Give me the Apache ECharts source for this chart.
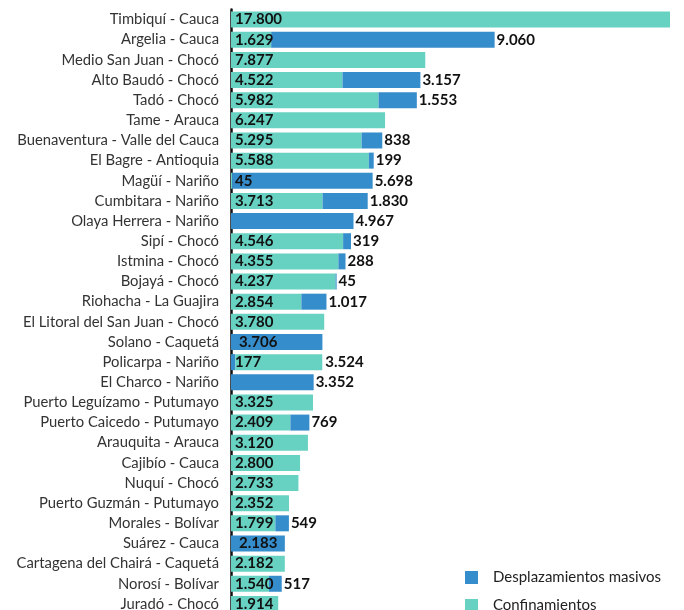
<!DOCTYPE html>
<html>
<head>
<meta charset="utf-8">
<script src="https://cdn.jsdelivr.net/npm/echarts@6/dist/echarts.min.js"></script>
<style>html,body{margin:0;padding:0;background:#fff}#c{width:684px;height:610px}</style>
</head>
<body>
<div id="c"></div>
<script>
const categories = ["Timbiquí - Cauca","Argelia - Cauca","Medio San Juan - Chocó","Alto Baudó - Chocó","Tadó - Chocó","Tame - Arauca","Buenaventura - Valle del Cauca","El Bagre - Antioquia","Magüí - Nariño","Cumbitara - Nariño","Olaya Herrera - Nariño","Sipí - Chocó","Istmina - Chocó","Bojayá - Chocó","Riohacha - La Guajira","El Litoral del San Juan - Chocó","Solano - Caquetá","Policarpa - Nariño","El Charco - Nariño","Puerto Leguízamo - Putumayo","Puerto Caicedo - Putumayo","Arauquita - Arauca","Cajibío - Cauca","Nuquí - Chocó","Puerto Guzmán - Putumayo","Morales - Bolívar","Suárez - Cauca","Cartagena del Chairá - Caquetá","Norosí - Bolívar","Juradó - Chocó"];
const confinamientos = [17800,1629,7877,4522,5982,6247,5295,5588,45,3713,null,4546,4355,4237,2854,3780,null,3524,null,3325,2409,3120,2800,2733,2352,1799,null,2182,1540,1914];
const desplazamientos = [null,9060,null,3157,1553,null,838,199,5698,1830,4967,319,288,45,1017,null,3706,null,3352,null,769,null,null,null,null,549,2183,null,517,null];
// Policarpa: displacement drawn before confinement in the reference
const desplazamientosPrevios = [null,null,null,null,null,null,null,null,null,null,null,null,null,null,null,null,null,177,null,null,null,null,null,null,null,null,null,null,null,null];
const seriesNames = ["Desplazamientos masivos","Confinamientos"];

const BLUE = '#368dcb', TEAL = '#67d2c2';
const fmt = v => String(v).replace(/\B(?=(\d{3})+(?!\d))/g, '.');
const labelBase = {show:true, color:'#111', fontFamily:'Lato', fontWeight:'bold', fontSize:15,
  formatter: p => (p.value == null ? '' : fmt(p.value))};

const insideLeftSet = new Set(["Solano - Caquetá","Suárez - Cauca"]);
const rightConfSet = new Set(["Policarpa - Nariño"]);

const confData = confinamientos.map((v,i) => rightConfSet.has(categories[i]) ?
  {value:v, label:{position:'right', distance:3}} : v);
const despData = desplazamientos.map((v,i) => insideLeftSet.has(categories[i]) ?
  {value:v, label:{position:'insideLeft', distance:8}} : v);

const chart = echarts.init(document.getElementById('c'), null, {renderer:'canvas'});
chart.setOption({
  animation:false,
  backgroundColor:'#fff',
  grid:{left:231, right:14, top:9.5, height:604.5, containLabel:false, outerBoundsMode:'none'},
  xAxis:{type:'value', min:0, max:17800, show:false},
  yAxis:{type:'category', inverse:true, data:categories,
    axisLine:{show:true, lineStyle:{color:'#111', width:2.5}},
    axisTick:{show:false},
    axisLabel:{color:'#333', fontFamily:'Lato', fontSize:14.8, margin:12}},
  legend:{orient:'vertical', left:465, top:570, height:80, padding:0, itemWidth:13, itemHeight:13, itemGap:13,
    icon:'rect', data:seriesNames,
    textStyle:{color:'#222', fontFamily:'Lato', fontSize:15, padding:[0,0,0,10]}},
  series:[
    {name:seriesNames[0], type:'bar', stack:'t', data:desplazamientosPrevios, barWidth:16,
      itemStyle:{color:BLUE}, label:Object.assign({}, labelBase, {position:'insideLeft', distance:4})},
    {name:seriesNames[1], type:'bar', stack:'t', data:confData, barWidth:16,
      itemStyle:{color:TEAL}, label:Object.assign({}, labelBase, {position:'insideLeft', distance:4})},
    {name:seriesNames[0], type:'bar', stack:'t', data:despData, barWidth:16,
      itemStyle:{color:BLUE}, label:Object.assign({}, labelBase, {position:'right', distance:2})}
  ]
});
</script>
</body>
</html>
